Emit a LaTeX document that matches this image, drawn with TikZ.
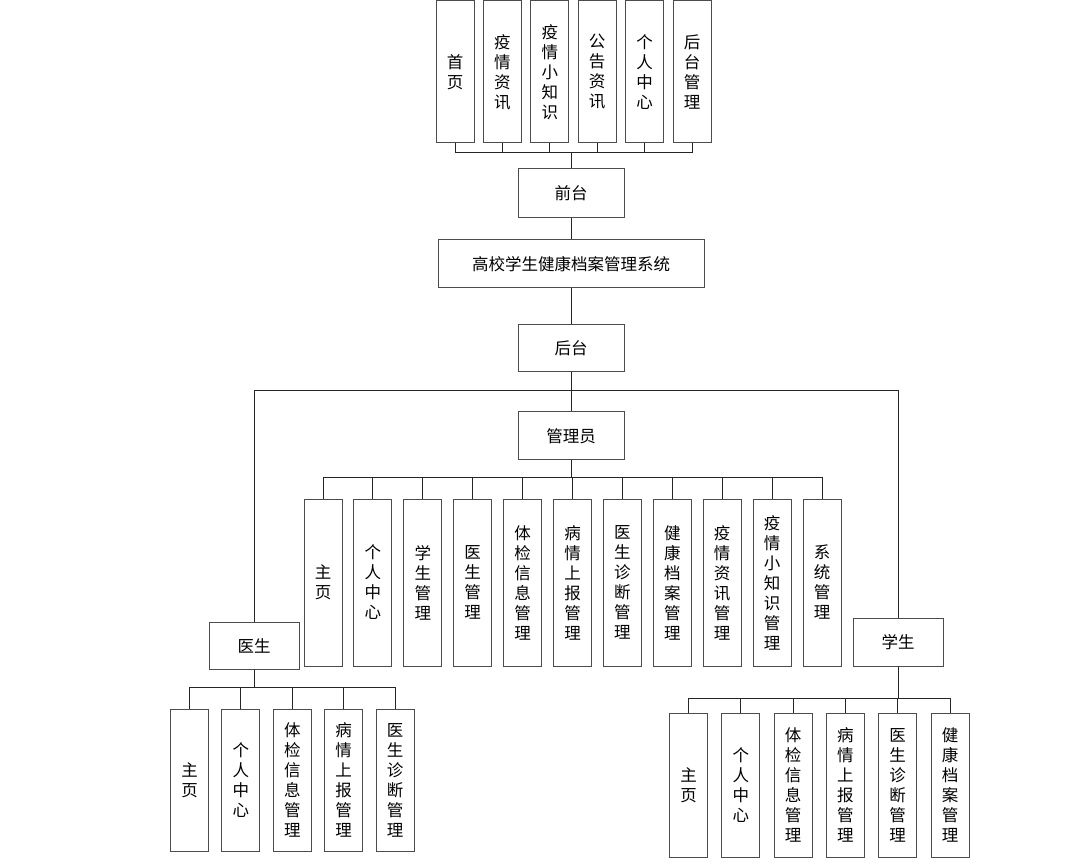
\documentclass[tikz,border=0pt]{standalone}
\usepackage{fontspec}
\newfontfamily\cjk{Noto Sans CJK SC}
\begin{document}
\begin{tikzpicture}[x=1pt,y=-1pt,
  box/.style={draw=black!70, line width=1pt, fill=white, inner sep=0pt,
    font=\cjk\fontsize{16.5}{20}\selectfont, align=center},
  vbox/.style={box, minimum width=38pt},
  conn/.style={draw=black!85, line width=0.9pt}]
\useasboundingbox (0,0) rectangle (1090,866);

% front end
\node[box, minimum width=106pt, minimum height=49pt] (qt) at (571,193.5) {前台};
\foreach \t [count=\i] in {{首\\页},{疫\\情\\资\\讯},{疫\\情\\小\\知\\识},{公\\告\\资\\讯},{个\\人\\中\\心},{后\\台\\管\\理}}{
  \node[vbox, minimum height=142pt] (t\i) at ({455+47.4*(\i-1)},72) {\t};
  \draw[conn] (t\i.south) -- ++(0,9) -| (qt.north);
}

% system
\node[box, minimum width=266pt, minimum height=48pt] (sys) at (571,264) {高校学生健康档案管理系统};
\node[box, minimum width=106pt, minimum height=47pt] (ht) at (571,348.5) {后台};
\node[box, minimum width=106pt, minimum height=48pt] (gly) at (571,436) {管理员};
\node[box, minimum width=90pt, minimum height=47pt] (ys) at (254,645.5) {医生};
\node[box, minimum width=90pt, minimum height=48pt] (xs) at (898,642) {学生};

\draw[conn] (qt.south) -- (sys.north);
\draw[conn] (sys.south) -- (ht.north);
\draw[conn] (ht.south) -- (gly.north);
\draw[conn] (ht.south) -- ++(0,18) -| (ys.north);
\draw[conn] (ht.south) -- ++(0,18) -| (xs.north);

% admin children
\foreach \t [count=\i] in {{主\\页},{个\\人\\中\\心},{学\\生\\管\\理},{医\\生\\管\\理},{体\\检\\信\\息\\管\\理},{病\\情\\上\\报\\管\\理},{医\\生\\诊\\断\\管\\理},{健\\康\\档\\案\\管\\理},{疫\\情\\资\\讯\\管\\理},{疫\\情\\小\\知\\识\\管\\理},{系\\统\\管\\理}}{
  \node[vbox, minimum height=167pt] (a\i) at ({323+49.9*(\i-1)},582.5) {\t};
  \draw[conn] (gly.south) -- ++(0,17) -| (a\i.north);
}

% doctor children
\foreach \t [count=\i] in {{主\\页},{个\\人\\中\\心},{体\\检\\信\\息\\管\\理},{病\\情\\上\\报\\管\\理},{医\\生\\诊\\断\\管\\理}}{
  \node[vbox, minimum height=142pt] (d\i) at ({189.5+51.4*(\i-1)},780) {\t};
  \draw[conn] (ys.south) -- ++(0,18) -| (d\i.north);
}

% student children
\foreach \t [count=\i] in {{主\\页},{个\\人\\中\\心},{体\\检\\信\\息\\管\\理},{病\\情\\上\\报\\管\\理},{医\\生\\诊\\断\\管\\理},{健\\康\\档\\案\\管\\理}}{
  \node[vbox, minimum height=144pt] (s\i) at ({688.5+52.3*(\i-1)},785) {\t};
  \draw[conn] (xs.south) -- ++(0,32) -| (s\i.north);
}
\end{tikzpicture}
\end{document}
